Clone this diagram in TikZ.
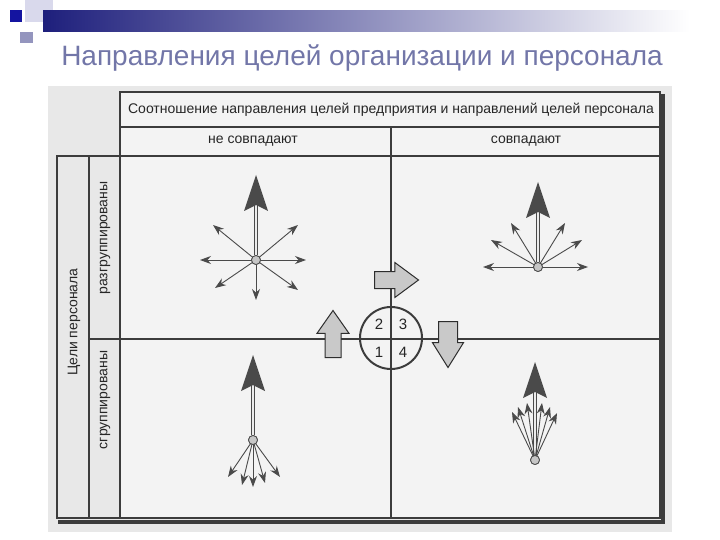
\documentclass[tikz,border=0pt]{standalone}
\usepackage{fontspec}
\setmainfont{Liberation Sans}
\usetikzlibrary{arrows.meta,shapes.arrows}
\definecolor{titleblue}{HTML}{7276A8}
\definecolor{navyband}{HTML}{1E1F7C}
\definecolor{squareblue}{HTML}{1414A0}
\definecolor{paleblue}{HTML}{D9D9EC}
\definecolor{midblue}{HTML}{9495BE}
\definecolor{gridline}{HTML}{3C3C3C}
\definecolor{arrowdark}{HTML}{4A4A4A}
\definecolor{blockfill}{HTML}{C9C9C9}
\definecolor{pagegray}{HTML}{E8E8E8}
\definecolor{cellgray}{HTML}{F3F3F3}

\begin{document}
\begin{tikzpicture}[x=1pt,y=-1pt,
    grid/.style={draw=gridline, line width=1.2pt},
    ray/.style={draw=arrowdark, line width=0.9pt, -{Stealth[length=11pt,width=8pt]}},
    mainshaft/.style={draw=arrowdark, double=gray!15, double distance=1.6pt, line width=0.8pt},
    hub/.style={circle, draw=arrowdark, fill=gray!45, minimum size=9pt, inner sep=0pt, line width=0.8pt},
    block/.style={single arrow, draw=gray!35!black, fill=blockfill, line width=1pt, single arrow head indent=0pt},
    lbl/.style={font=\fontsize{14}{16}\selectfont, text=black!85, inner sep=1pt},
    num/.style={font=\fontsize{15}{17}\selectfont, text=black!85, inner sep=0pt}]
    \useasboundingbox (0,0) rectangle (720,540);
    % Slide decoration
    \fill[paleblue] (25,0) rectangle (53,22);
    \fill[midblue] (20,32) rectangle (33,43);
    \shade[left color=navyband, right color=white] (43,11) rectangle (690,32);
    \fill[squareblue] (10,10) rectangle (22,22);
    \node[font=\fontsize{28}{32}\selectfont, text=titleblue] (title) at (362,58) {Направления целей организации и персонала};
    % Scanned page and table
    \fill[pagegray] (48,86) rectangle (672,532);
    \fill[cellgray] (120,92) rectangle (660,518);
    \fill[gray!18] (57,156) rectangle (120,518);
    \draw[grid] (120,92) rectangle (660,518);
    \draw[grid] (57,156) rectangle (120,518);
    \draw[grid] (120,127) -- (660,127);
    \draw[grid] (57,156) -- (660,156);
    \draw[grid] (89,156) -- (89,518);
    \draw[grid] (391,127) -- (391,518);
    \draw[grid] (89,339) -- (660,339);
    \draw[draw=gridline, line width=4pt] (663,94) -- (663,522) -- (58,522);
    % Headings
    \node[lbl] (head) at (391,110) {Соотношение направления целей предприятия и направлений целей персонала};
    \node[lbl] (nomatch) at (253,141) {не совпадают};
    \node[lbl] (match) at (526,141) {совпадают};
    \node[lbl, rotate=90] (staff) at (74,322) {Цели персонала};
    \node[lbl, rotate=90] (split) at (105,238) {разгруппированы};
    \node[lbl, rotate=90] (grouped) at (105,400) {сгруппированы};
    % Quadrants
    \node[circle, draw=gridline, line width=2pt, minimum size=62pt, inner sep=0pt] (quad) at (391,338) {};
    \foreach \n/\dx/\dy in {2/-12/-14, 3/12/-14, 1/-12/14, 4/12/14}
        \node[num] (q\n) at ([shift={(\dx,\dy)}]quad.center) {\n};
    \node[block, inner sep=8pt, minimum height=44pt, minimum width=34pt, single arrow head extend=9pt, single arrow tip angle=73, anchor=tail] (toright) at (374,280) {};
    \node[block, inner sep=7.5pt, minimum height=47pt, minimum width=31pt, single arrow head extend=8pt, single arrow tip angle=70, shape border rotate=90, anchor=tail] (toup) at (333,358) {};
    \node[block, inner sep=9pt, minimum height=46pt, minimum width=30pt, single arrow head extend=6pt, single arrow tip angle=64, shape border rotate=270, anchor=tail] (todown) at (448,321) {};
    % Hubs
    \node[hub] (hubA) at (256,260) {};
    \node[hub] (hubB) at (538,267) {};
    \node[hub] (hubC) at (253,440) {};
    \node[hub] (hubD) at (535,460) {};
    % Goal of the firm
    \foreach \h/\len in {hubA/85, hubB/85, hubC/85, hubD/98} {
        \path (\h) ++(0,-\len) coordinate (\h-tip);
        \draw[mainshaft] (\h.north) -- ++(0,{-\len+34.5});
        \fill[arrowdark] (\h-tip) -- ++(12,36) -- ++(-12,-6) -- ++(-12,6) -- cycle;
    }
    % Goals of the staff
    \foreach \h/\dx/\dy in {hubA/-56/0, hubA/50/0, hubA/-43/-35, hubA/42/-35, hubA/-41/28, hubA/42/30, hubA/0/40,
        hubB/-55/0, hubB/50/0, hubB/-47/-27, hubB/-27/-44, hubB/27/-44, hubB/44/-27,
        hubC/-25/37, hubC/-11/45, hubC/0/47, hubC/12/43, hubC/27/37,
        hubD/-23/-48, hubD/-17/-53, hubD/-8/-57, hubD/7/-57, hubD/15/-53, hubD/22/-47}
        \draw[ray] (\h.center) -- ++(\dx,\dy);
    \foreach \h in {hubA, hubB, hubC, hubD}
        \node[hub] at (\h) {};
\end{tikzpicture}
\end{document}
